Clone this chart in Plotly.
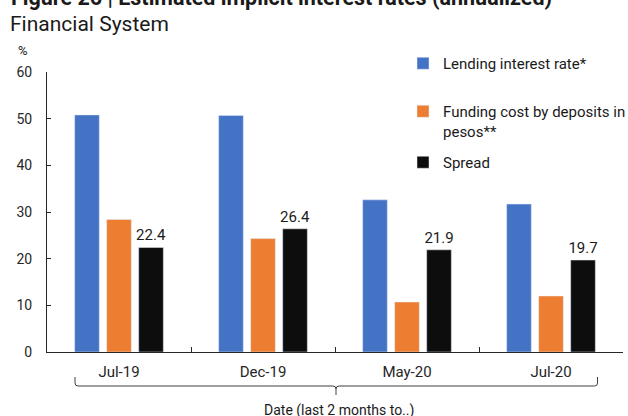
import plotly.graph_objects as go

# Reporting periods (two-month windows ending in the given month)
periods = ["Jul-19", "Dec-19", "May-20", "Jul-20"]

# Annualized implicit rates, in percent
lending_rate = [50.8, 50.7, 32.6, 31.7]
funding_cost = [28.4, 24.3, 10.7, 12.0]
spread = [22.4, 26.4, 21.9, 19.7]

y_ticks = [0, 10, 20, 30, 40, 50, 60]

W, H = 628, 416
M_L, M_R, M_T, M_B = 47, 5, 72, 64
PW, PH = W - M_L - M_R, H - M_T - M_B

FONT = "Roboto"
INK = "#262626"


def px_x(px):
    return (px - M_L) / PW


def px_y(py):
    return (H - M_B - py) / PH


fig = go.Figure()
fig.add_trace(go.Bar(
    name="Lending interest rate*", x=periods, y=lending_rate,
    marker_color="#4472C4", legend="legend",
))
fig.add_trace(go.Bar(
    name="Funding cost by deposits in<br>pesos**", x=periods, y=funding_cost,
    marker_color="#ED7D31", legend="legend2",
))
fig.add_trace(go.Bar(
    name="Spread", x=periods, y=spread,
    marker_color="#0D0D0D", legend="legend3",
    texttemplate="%{y:.1f}", textposition="outside", constraintext="none",
    textfont=dict(family=FONT, size=15, color="#1a1a1a"),
    cliponaxis=False,
))

legend_style = dict(
    xref="paper", yref="paper", xanchor="left", yanchor="middle",
    font=dict(family=FONT, size=15, color="#1a1a1a"),
    bgcolor="rgba(0,0,0,0)", borderwidth=0, valign="top",
    itemclick=False, itemdoubleclick=False,
)

# Brace grouping all periods under the axis title
y_top, y_mid, y_tip = px_y(377), px_y(386), px_y(395)
x_left, x_center, x_right = px_x(75), px_x(336), px_x(597.5)
r = 3
rx, ry = r / PW, r / PH
brace = (
    f"M{x_left},{y_top} L{x_left},{y_mid + ry} Q{x_left},{y_mid} {x_left + rx},{y_mid} "
    f"L{x_center - rx},{y_mid} Q{x_center},{y_mid} {x_center},{y_mid - ry} "
    f"L{x_center},{y_tip} M{x_center},{y_mid - ry} Q{x_center},{y_mid} {x_center + rx},{y_mid} "
    f"L{x_right - rx},{y_mid} Q{x_right},{y_mid} {x_right},{y_mid + ry} L{x_right},{y_top}"
)

fig.update_layout(
    width=W, height=H,
    margin=dict(l=M_L, r=M_R, t=M_T, b=M_B, pad=0, autoexpand=False),
    paper_bgcolor="white", plot_bgcolor="white",
    font=dict(family=FONT, color=INK),
    barmode="group", bargap=0.333, bargroupgap=0.23,
    showlegend=True,
    legend=dict(legend_style, x=px_x(403), y=px_y(63.5)),
    legend2=dict(legend_style, x=px_x(403), y=px_y(121)),
    legend3=dict(legend_style, x=px_x(403), y=px_y(162.5)),
    xaxis=dict(
        type="category", showline=True, linecolor=INK, linewidth=1,
        ticks="inside", tickson="boundaries", ticklen=5, tickcolor=INK,
        tickfont=dict(family=FONT, size=15, color=INK),
        ticklabelstandoff=6, showgrid=False, zeroline=False,
        fixedrange=True,
    ),
    yaxis=dict(
        range=[0, 60], tickvals=y_ticks, showline=True, linecolor=INK,
        linewidth=1, ticks="inside", ticklen=4, tickcolor=INK,
        tickfont=dict(family=FONT, size=14, color=INK),
        ticklabelstandoff=11, showgrid=False, zeroline=False,
        fixedrange=True,
    ),
    shapes=[dict(type="path", xref="paper", yref="paper", path=brace,
                 line=dict(color="#404040", width=1))],
    annotations=[
        dict(text="<b>Figure 26 | Estimated implicit interest rates (annualized)</b>",
             xref="paper", yref="paper", x=px_x(9), y=px_y(-3), xanchor="left",
             yanchor="middle", showarrow=False,
             font=dict(family=FONT, size=21.5, color="#1a1a1a")),
        dict(text="Financial System", xref="paper", yref="paper",
             x=px_x(8), y=px_y(24), xanchor="left", yanchor="middle",
             showarrow=False, font=dict(family=FONT, size=21, color="#1a1a1a")),
        dict(text="%", xref="paper", yref="paper", x=px_x(23), y=px_y(50.5),
             xanchor="center", yanchor="middle", showarrow=False,
             font=dict(family=FONT, size=13, color="#1a1a1a")),
        dict(text="Date (last 2 months to..)", xref="paper", yref="paper",
             x=px_x(339), y=px_y(410), xanchor="center", yanchor="middle",
             showarrow=False, font=dict(family=FONT, size=14, color="#1a1a1a")),
    ],
)

fig.write_html("out.html", config={"displayModeBar": False})
